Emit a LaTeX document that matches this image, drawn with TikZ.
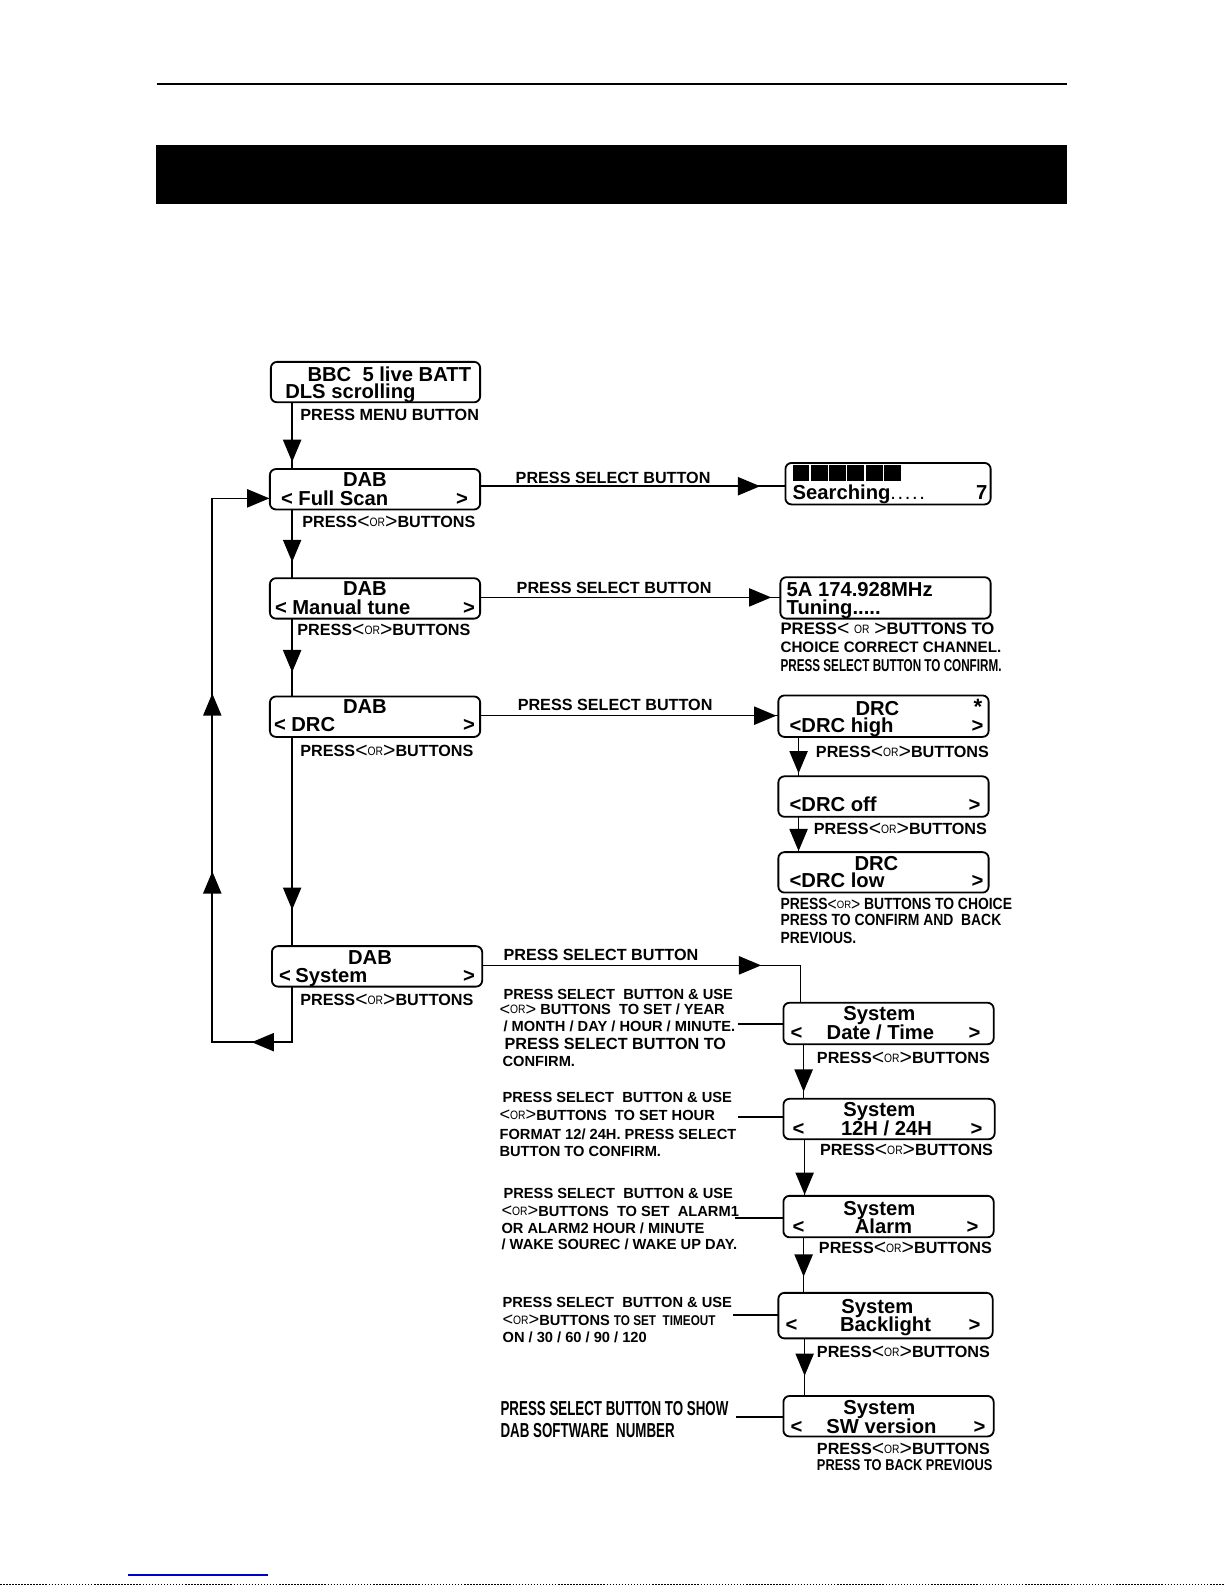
\documentclass[tikz,border=0pt]{standalone}
\usepackage{fontspec}
\setmainfont{Liberation Sans}
\usetikzlibrary{arrows.meta,decorations.markings,calc}
\newcommand\lch{\smash{\mdseries\fontsize{21}{21}\selectfont\raisebox{-1pt}{<}}}
\newcommand\rch{\smash{\mdseries\fontsize{21}{21}\selectfont\raisebox{-1pt}{>}}}
\newcommand\lchs{\smash{\mdseries\fontsize{18}{18}\selectfont\raisebox{-0.5pt}{<}}}
\newcommand\rchs{\smash{\mdseries\fontsize{18}{18}\selectfont\raisebox{-0.5pt}{>}}}
\newcommand\orw{\smash{\mdseries\fontsize{12}{12}\selectfont\addfontfeature{FakeStretch=0.85}\raisebox{1pt}{OR}}}
\newcommand\orws{\smash{\mdseries\fontsize{10.5}{10.5}\selectfont\addfontfeature{FakeStretch=0.9}\raisebox{1pt}{OR}}}
\newcommand\pob{PRESS\lch\orw\rch BUTTONS}
\tikzset{
  box/.style n args={2}{draw, line width=1.8pt, rounded corners=6pt, inner sep=0pt, outer sep=0pt,
    minimum width=#1pt, minimum height=#2pt, anchor=north west},
  bt/.style={inner sep=0pt, font=\bfseries\fontsize{20}{20}\selectfont},
  btl/.style={bt, anchor=base west},
  btr/.style={bt, anchor=base east},
  btc/.style={bt, anchor=base},
  lab/.style={inner sep=0pt, anchor=base west, font=\bfseries\fontsize{16}{16}\selectfont},
  slab/.style={inner sep=0pt, anchor=base west, font=\bfseries\fontsize{14.5}{15}\selectfont},
  clab/.style n args={2}{inner sep=0pt, anchor=base west,
    font=\bfseries\fontsize{#1}{#1}\selectfont\addfontfeature{FakeStretch=#2}},
  conn/.style={line width=1.6pt},
  mk/.style={postaction={decorate,decoration={markings,mark=at position #1 with {\arrow{>}}}}},
  loopmk/.style={postaction={decorate,decoration={markings,
      mark=at position 95pt with {\arrow{>}},
      mark=at position 303pt with {\arrow{>}},
      mark=at position 479pt with {\arrow{>}},
      mark=at position -0.5pt with {\arrow{>}}}}}
}
\begin{document}
\begin{tikzpicture}[x=1pt,y=-1pt,>={Triangle[length=22pt,width=18pt]}]
\useasboundingbox (0,0) rectangle (1212,1568);
% header
\draw[line width=2.2pt] (155,83) -- (1056,83);
\fill (154,143) rectangle (1056,202);
% boxes
\node[box={207}{40}] (bbc) at (268,358) {};
\node[box={208}{40}] (fs) at (267,464) {};
\node[box={208}{40}] (mt) at (267,572) {};
\node[box={208}{40}] (drc) at (267,689) {};
\node[box={208}{40}] (sys) at (269,936) {};
\node[box={203}{41}] (srch) at (777,458) {};
\node[box={208}{41}] (tun) at (772,571) {};
\node[box={208}{41}] (dh) at (770,688) {};
\node[box={208}{40}] (doff) at (770,768) {};
\node[box={208}{40}] (dlow) at (770,843) {};
\node[box={208}{41}] (sdt) at (775,992) {};
\node[box={209}{40}] (s12) at (775,1087) {};
\node[box={208}{41}] (sal) at (775,1183) {};
\node[box={212}{45}] (sbl) at (770,1279) {};
\node[box={208}{40}] (ssw) at (775,1381) {};
% texts in boxes
\node[btl] (t1) at (304,377) {BBC\ \ 5 live BATT};
\node[btl] (t2) at (282,394) {DLS scrolling};
\node[btc] (t3) at (361,481) {DAB};
\node[btl] (t4) at (278,500) {<};
\node[btl] (t5) at (295,500) {Full Scan};
\node[btr] (t6) at (463,500) {>};
\node[btc] (t7) at (361,589) {DAB};
\node[btl] (t8) at (272,608) {<};
\node[btl] (t9) at (289,608) {Manual tune};
\node[btr] (t10) at (470,608) {>};
\node[btc] (t11) at (361,706) {DAB};
\node[btl] (t12) at (271,724) {<};
\node[btl] (t13) at (288,724) {DRC};
\node[btr] (t14) at (470,724) {>};
\node[btc] (t15) at (366,954) {DAB};
\node[btl] (t16) at (276,972) {<};
\node[btl] (t17) at (292,972) {System};
\node[btr] (t18) at (470,972) {>};
% searching
\foreach \i in {0,...,5} {\fill (784+18.1*\i,460) rectangle ++(16.8,16);}
\node[btl] (t19) at (784,494) {Searching{\mdseries\addfontfeature{LetterSpace=8}.....}};
\node[btr] (t20) at (977,494) {7};
\node[btl] (t21) at (778,590) {5A 174.928MHz};
\node[btl] (t22) at (778,608) {Tuning.....};
\node[btc] (t23) at (868,708) {DRC};
\node[inner sep=0pt, anchor=base east, font=\bfseries\fontsize{22}{22}\selectfont] (t24) at (972,707) {\smash{*}};
\node[btl] (t25) at (781,725) {<DRC high};
\node[btr] (t26) at (973,725) {>};
\node[btl] (t27) at (781,803) {<DRC off};
\node[btr] (t28) at (970,803) {>};
\node[btc] (t29) at (867,861) {DRC};
\node[btl] (t30) at (781,878) {<DRC low};
\node[btr] (t31) at (973,878) {>};
% system boxes
\node[btc] (t32) at (870,1010) {System};
\node[btl] (t33) at (782,1028) {<};
\node[btc] (t34) at (871,1028) {Date / Time};
\node[btr] (t35) at (970,1028) {>};
\node[btc] (t36) at (870,1105) {System};
\node[btl] (t37) at (784,1123) {<};
\node[btc] (t38) at (877,1123) {12H / 24H};
\node[btr] (t39) at (972,1123) {>};
\node[btc] (t40) at (870,1202) {System};
\node[btl] (t41) at (784,1220) {<};
\node[btc] (t42) at (874,1220) {Alarm};
\node[btr] (t43) at (968,1220) {>};
\node[btc] (t44) at (868,1299) {System};
\node[btl] (t45) at (777,1317) {<};
\node[btc] (t46) at (876,1317) {Backlight};
\node[btr] (t47) at (970,1317) {>};
\node[btc] (t48) at (870,1399) {System};
\node[btl] (t49) at (782,1418) {<};
\node[btc] (t50) at (872,1418) {SW version};
\node[btr] (t51) at (975,1418) {>};
% labels
\node[lab] (l1) at (297,416) {PRESS MENU BUTTON};
\node[lab] (l2) at (299,522) {\pob};
\node[lab] (l3) at (510,478) {PRESS SELECT BUTTON};
\node[lab] (l4) at (294,629) {\pob};
\node[lab] (l5) at (511,587) {PRESS SELECT BUTTON};
\node[lab, font=\bfseries\fontsize{16.5}{16.5}\selectfont] (l6) at (772,628) {PRESS\lch\ \orw\ \rch BUTTONS TO};
\node[lab, font=\bfseries\fontsize{15}{15}\selectfont] (l7) at (772,645) {CHOICE CORRECT CHANNEL.};
\node[clab={17}{0.68}] (l8) at (772,664) {PRESS SELECT BUTTON TO CONFIRM.};
\node[lab] (l9) at (297,748) {\pob};
\node[lab] (l10) at (512,703) {PRESS SELECT BUTTON};
\node[lab] (l11) at (807,749) {\pob};
\node[lab] (l12) at (805,826) {\pob};
\node[clab={16}{0.86}] (l13) at (772,900) {PRESS\lchs\orws\rchs\ BUTTONS TO CHOICE};
\node[clab={16}{0.86}] (l14) at (772,916) {PRESS TO CONFIRM AND\ \ BACK};
\node[clab={16}{0.86}] (l15) at (772,933) {PREVIOUS.};
\node[lab] (l16) at (297,995) {\pob};
\node[lab] (l17) at (498,950) {PRESS SELECT BUTTON};
\node[lab] (l18) at (808,1052) {\pob};
\node[slab] (l19) at (498,989) {PRESS SELECT\ \ BUTTON \& USE};
\node[slab] (l20) at (494,1004) {\lchs\orw\rchs\ BUTTONS\ \ TO SET / YEAR};
\node[slab] (l21) at (498,1020) {/ MONTH / DAY / HOUR / MINUTE.};
\node[lab] (l22) at (499,1038) {PRESS SELECT BUTTON TO};
\node[slab] (l23) at (497,1055) {CONFIRM.};
\node[lab] (l24) at (811,1143) {\pob};
\node[slab] (l25) at (497,1091) {PRESS SELECT\ \ BUTTON \& USE};
\node[slab] (l26) at (494,1108) {\lchs\orw\rchs BUTTONS\ \ TO SET HOUR};
\node[slab] (l27) at (494,1127) {FORMAT 12/ 24H. PRESS SELECT};
\node[slab] (l28) at (494,1144) {BUTTON TO CONFIRM.};
\node[lab] (l29) at (810,1240) {\pob};
\node[slab] (l30) at (498,1186) {PRESS SELECT\ \ BUTTON \& USE};
\node[slab] (l31) at (496,1203) {\lchs\orw\rchs BUTTONS\ \ TO SET\ \ ALARM1};
\node[slab] (l32) at (496,1220) {OR ALARM2 HOUR / MINUTE};
\node[slab] (l33) at (496,1236) {/ WAKE SOUREC / WAKE UP DAY.};
\node[lab] (l34) at (808,1343) {\pob};
\node[slab] (l35) at (497,1293) {PRESS SELECT\ \ BUTTON \& USE};
\node[slab] (l36) at (497,1311) {\lchs\orw\rchs BUTTONS {\fontsize{14}{14}\selectfont\addfontfeature{FakeStretch=0.83}TO SET\ \ TIMEOUT}};
\node[slab] (l37) at (497,1328) {ON / 30 / 60 / 90 / 120};
\node[lab] (l38) at (808,1439) {\pob};
\node[clab={15.5}{0.82}] (l39) at (808,1455) {PRESS TO BACK PREVIOUS};
\node[clab={20}{0.66}] (l40) at (495,1400) {PRESS SELECT BUTTON TO SHOW};
\node[clab={20}{0.66}] (l41) at (495,1422) {DAB SOFTWARE\ \ NUMBER};
% connectors
\draw[conn, mk=59pt] ($(bbc.south west)+(21,0)$) -- ($(fs.north west)+(22,0)$);
\draw[conn, mk=52pt] ($(fs.south west)+(22,0)$) -- ($(mt.north west)+(22,0)$);
\draw[conn, mk=53pt] ($(mt.south west)+(22,0)$) -- ($(drc.north west)+(22,0)$);
\draw[conn, mk=171pt] ($(drc.south west)+(22,0)$) -- ($(sys.north west)+(20,0)$);
\draw[conn, loopmk] ($(sys.south west)+(20,0)$) -- ++(0,55) -- ++(-79,0) |- ($(fs.south west)+(0,-11)$);
\draw[conn, mk=277pt] ($(fs.north east)+(0,17)$) -- ($(srch.north west)+(0,23)$);
\draw[conn, mk=288pt] ($(mt.north east)+(0,19)$) -- ($(tun.north west)+(0,20)$);
\draw[conn, mk=293pt] ($(drc.north east)+(0,19)$) -- ($(dh.north west)+(0,20)$);
\draw[conn, mk=36pt] ($(dh.south west)+(20,0)$) -- ($(doff.north west)+(20,0)$);
\draw[conn, mk=34pt] ($(doff.south west)+(20,0)$) -- ($(dlow.north west)+(20,0)$);
\draw[conn, mk=276pt] ($(sys.north east)+(0,19)$) -| ($(sdt.north west)+(17,0)$);
\draw[conn, mk=47pt] ($(sdt.south west)+(20,0)$) -- ($(s12.north west)+(20,0)$);
\draw[conn, mk=55pt] ($(s12.south west)+(21,0)$) -- ($(sal.north west)+(21,0)$);
\draw[conn, mk=39pt] ($(sal.south west)+(20,0)$) -- ($(sbl.north west)+(25,0)$);
\draw[conn, mk=37pt] ($(sbl.south west)+(26,0)$) -- ($(ssw.north west)+(21,0)$);
% side connectors from labels
\coordinate (c1) at (730,1013);
\coordinate (c2) at (730,1105);
\coordinate (c3) at (727,1205);
\coordinate (c4) at (725,1301);
\coordinate (c5) at (728,1402);
\draw[conn] (c1) -- (c1 -| sdt.west);
\draw[conn] (c2) -- (c2 -| s12.west);
\draw[conn] (c3) -- (c3 -| sal.west);
\draw[conn] (c4) -- (c4 -| sbl.west);
\draw[conn] (c5) -- (c5 -| ssw.west);
% page artifacts
\draw[blue!80!black, line width=1.2pt] (127,1558) -- (265,1558);
\draw[line width=1pt, dash pattern=on 1.5pt off 1.5pt] (0,1567) -- (1212,1567);
\end{tikzpicture}
\end{document}
